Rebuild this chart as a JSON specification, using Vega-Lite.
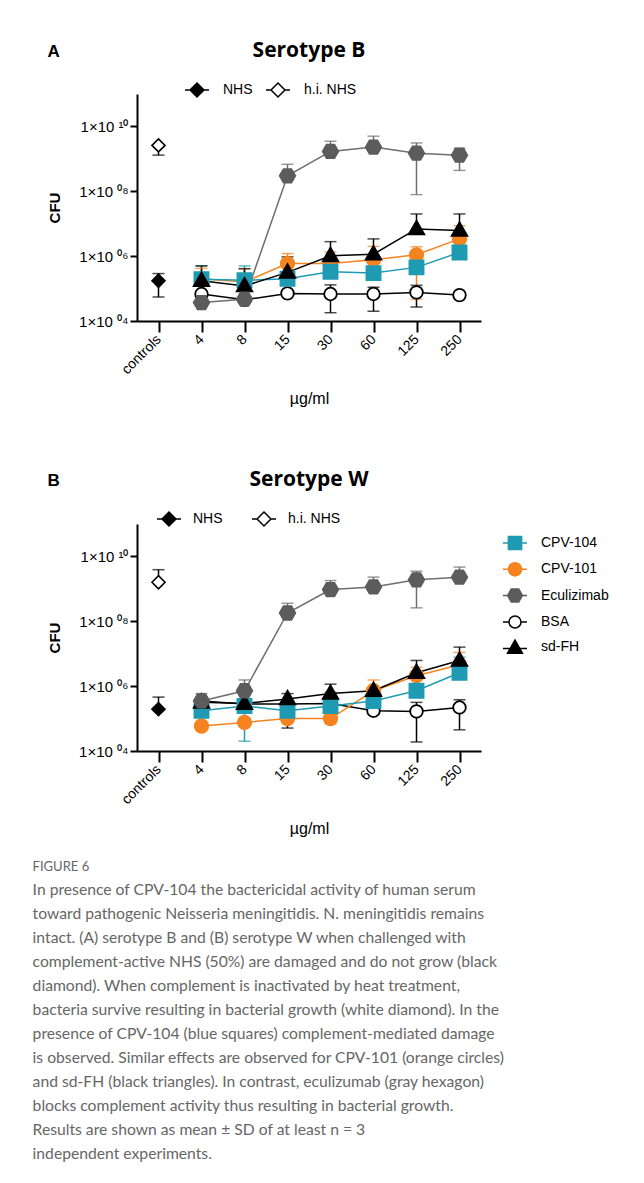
{
"$schema": "https://vega.github.io/schema/vega-lite/v6.json",
"background": "white",
"padding": {"left": 32, "top": 40, "right": 5, "bottom": 5},
"config": {
 "view": {"stroke": null},
 "font": "Liberation Sans",
 "axis": {"domainColor": "#000", "domainWidth": 2, "tickColor": "#000", "tickWidth": 2, "labelColor": "#000", "titleColor": "#000", "grid": false, "labelFont": "Liberation Sans", "titleFont": "Liberation Sans"},
 "axisY": {"labelFontSize": 15, "tickSize": 7, "labelPadding": 2, "titleFontSize": 15, "titleFontWeight": "bold", "titlePadding": 16},
 "axisX": {"labelAngle": -45, "labelAlign": "right", "labelBaseline": "middle", "labelFontSize": 14, "tickSize": 11, "labelPadding": 5, "titleFontSize": 16, "titleFontWeight": "normal", "titlePadding": 14},
 "legend": {"labelFont": "Liberation Sans", "labelFontSize": 14, "labelColor": "#000"},
 "title": {"color": "#000"}
},
"title": {"text": "FIGURE 6", "subtitle": [
  "In presence of CPV-104 the bactericidal activity of human serum",
  "toward pathogenic Neisseria meningitidis. N. meningitidis remains",
  "intact. (A) serotype B and (B) serotype W when challenged with",
  "complement-active NHS (50%) are damaged and do not grow (black",
  "diamond). When complement is inactivated by heat treatment,",
  "bacteria survive resulting in bacterial growth (white diamond). In the",
  "presence of CPV-104 (blue squares) complement-mediated damage",
  "is observed. Similar effects are observed for CPV-101 (orange circles)",
  "and sd-FH (black triangles). In contrast, eculizumab (gray hexagon)",
  "blocks complement activity thus resulting in bacterial growth.",
  "Results are shown as mean \u00b1 SD of at least n = 3",
  "independent experiments."],
 "orient": "bottom", "anchor": "start", "frame": "bounds", "dx": -15, "offset": 24,
 "font": "Lato", "fontSize": 13, "fontWeight": "normal", "color": "#666666",
 "subtitleFont": "Lato", "subtitleFontSize": 15.7, "subtitleColor": "#666666", "subtitleLineHeight": 24, "subtitlePadding": 9},
"datasets": {
 "sA": [
  {"dose":"4","series":"BSA","mean":68000,"lo":68000,"hi":68000},
  {"dose":"8","series":"BSA","mean":45000,"lo":45000,"hi":45000},
  {"dose":"15","series":"BSA","mean":71000,"lo":71000,"hi":71000},
  {"dose":"30","series":"BSA","mean":68000,"lo":18000,"hi":130000},
  {"dose":"60","series":"BSA","mean":68000,"lo":20000,"hi":110000},
  {"dose":"125","series":"BSA","mean":76000,"lo":27000,"hi":126000},
  {"dose":"250","series":"BSA","mean":63000,"lo":63000,"hi":63000},
  {"dose":"4","series":"CPV-101","mean":200000,"lo":200000,"hi":420000},
  {"dose":"8","series":"CPV-101","mean":160000,"lo":160000,"hi":410000},
  {"dose":"15","series":"CPV-101","mean":590000,"lo":590000,"hi":1200000},
  {"dose":"30","series":"CPV-101","mean":590000,"lo":590000,"hi":1350000},
  {"dose":"60","series":"CPV-101","mean":780000,"lo":780000,"hi":2000000},
  {"dose":"125","series":"CPV-101","mean":1100000,"lo":47000,"hi":1950000},
  {"dose":"250","series":"CPV-101","mean":3400000,"lo":3400000,"hi":8700000},
  {"dose":"4","series":"CPV-104","mean":195000,"lo":195000,"hi":500000},
  {"dose":"8","series":"CPV-104","mean":180000,"lo":180000,"hi":500000},
  {"dose":"15","series":"CPV-104","mean":200000,"lo":200000,"hi":200000},
  {"dose":"30","series":"CPV-104","mean":330000,"lo":330000,"hi":330000},
  {"dose":"60","series":"CPV-104","mean":300000,"lo":300000,"hi":300000},
  {"dose":"125","series":"CPV-104","mean":450000,"lo":450000,"hi":1000000},
  {"dose":"250","series":"CPV-104","mean":1300000,"lo":1300000,"hi":1300000},
  {"dose":"4","series":"sd-FH","mean":174000,"lo":174000,"hi":500000},
  {"dose":"8","series":"sd-FH","mean":120000,"lo":120000,"hi":410000},
  {"dose":"15","series":"sd-FH","mean":316000,"lo":316000,"hi":950000},
  {"dose":"30","series":"sd-FH","mean":1020000,"lo":1020000,"hi":2800000},
  {"dose":"60","series":"sd-FH","mean":1150000,"lo":1150000,"hi":3400000},
  {"dose":"125","series":"sd-FH","mean":6900000,"lo":6900000,"hi":20000000},
  {"dose":"250","series":"sd-FH","mean":6200000,"lo":6200000,"hi":20000000},
  {"dose":"4","series":"Eculizimab","mean":37000,"lo":37000,"hi":37000},
  {"dose":"8","series":"Eculizimab","mean":47000,"lo":47000,"hi":47000},
  {"dose":"15","series":"Eculizimab","mean":300000000,"lo":300000000,"hi":680000000},
  {"dose":"30","series":"Eculizimab","mean":1700000000,"lo":1700000000,"hi":3500000000},
  {"dose":"60","series":"Eculizimab","mean":2300000000,"lo":2300000000,"hi":5000000000},
  {"dose":"125","series":"Eculizimab","mean":1500000000,"lo":79000000,"hi":3100000000},
  {"dose":"250","series":"Eculizimab","mean":1300000000,"lo":440000000,"hi":2100000000}
 ],
 "cA": [
  {"dose":"controls","group":"NHS","mean":174000,"lo":55000,"hi":290000},
  {"dose":"controls","group":"h.i. NHS","mean":2600000000,"lo":1300000000,"hi":2600000000}
 ],
 "sB": [
  {"dose":"4","series":"BSA","mean":350000,"lo":350000,"hi":350000},
  {"dose":"8","series":"BSA","mean":280000,"lo":280000,"hi":280000},
  {"dose":"15","series":"BSA","mean":280000,"lo":280000,"hi":280000},
  {"dose":"30","series":"BSA","mean":290000,"lo":290000,"hi":290000},
  {"dose":"60","series":"BSA","mean":174000,"lo":174000,"hi":174000},
  {"dose":"125","series":"BSA","mean":166000,"lo":19000,"hi":316000},
  {"dose":"250","series":"BSA","mean":220000,"lo":45000,"hi":380000},
  {"dose":"4","series":"CPV-101","mean":59000,"lo":59000,"hi":59000},
  {"dose":"8","series":"CPV-101","mean":76000,"lo":76000,"hi":76000},
  {"dose":"15","series":"CPV-101","mean":100000,"lo":100000,"hi":100000},
  {"dose":"30","series":"CPV-101","mean":100000,"lo":69000,"hi":100000},
  {"dose":"60","series":"CPV-101","mean":720000,"lo":720000,"hi":1550000},
  {"dose":"125","series":"CPV-101","mean":2100000,"lo":2100000,"hi":3800000},
  {"dose":"250","series":"CPV-101","mean":4600000,"lo":4600000,"hi":11000000},
  {"dose":"4","series":"CPV-104","mean":174000,"lo":174000,"hi":174000},
  {"dose":"8","series":"CPV-104","mean":245000,"lo":20000,"hi":500000},
  {"dose":"15","series":"CPV-104","mean":174000,"lo":174000,"hi":174000},
  {"dose":"30","series":"CPV-104","mean":245000,"lo":245000,"hi":650000},
  {"dose":"60","series":"CPV-104","mean":350000,"lo":350000,"hi":350000},
  {"dose":"125","series":"CPV-104","mean":720000,"lo":720000,"hi":720000},
  {"dose":"250","series":"CPV-104","mean":2600000,"lo":2600000,"hi":7800000},
  {"dose":"4","series":"sd-FH","mean":316000,"lo":316000,"hi":316000},
  {"dose":"8","series":"sd-FH","mean":290000,"lo":290000,"hi":290000},
  {"dose":"15","series":"sd-FH","mean":400000,"lo":51000,"hi":590000},
  {"dose":"30","series":"sd-FH","mean":590000,"lo":590000,"hi":1150000},
  {"dose":"60","series":"sd-FH","mean":720000,"lo":720000,"hi":720000},
  {"dose":"125","series":"sd-FH","mean":2600000,"lo":2600000,"hi":6200000},
  {"dose":"250","series":"sd-FH","mean":6200000,"lo":6200000,"hi":16000000},
  {"dose":"4","series":"Eculizimab","mean":350000,"lo":350000,"hi":590000},
  {"dose":"8","series":"Eculizimab","mean":720000,"lo":720000,"hi":1550000},
  {"dose":"15","series":"Eculizimab","mean":180000000,"lo":180000000,"hi":360000000},
  {"dose":"30","series":"Eculizimab","mean":950000000,"lo":950000000,"hi":1800000000},
  {"dose":"60","series":"Eculizimab","mean":1150000000,"lo":1150000000,"hi":2300000000},
  {"dose":"125","series":"Eculizimab","mean":1900000000,"lo":260000000,"hi":3500000000},
  {"dose":"250","series":"Eculizimab","mean":2300000000,"lo":2300000000,"hi":4700000000}
 ],
 "cB": [
  {"dose":"controls","group":"NHS","mean":195000,"lo":195000,"hi":460000},
  {"dose":"controls","group":"h.i. NHS","mean":1600000000,"lo":1600000000,"hi":3900000000}
 ]
},
"spacing": 62,
"vconcat": [
  {"title": {"text": "A", "anchor": "start", "frame": "bounds", "font": "Liberation Sans", "fontSize": 17, "fontWeight": "bold", "offset": -21},
   "vconcat": [
   {"width": 344, "height": 227,
    "title": {"text": "Serotype B", "font": "Open Sans", "fontSize": 21, "fontWeight": "bold", "anchor": "middle", "frame": "group", "offset": 16},
    "encoding": {"x": {"field": "dose", "type": "ordinal", "sort": ["controls","4","8","15","30","60","125","250"], "scale": {"type": "point", "padding": 0.5, "domain": ["controls","4","8","15","30","60","125","250"]}, "axis": {"title": "\u00b5g/ml"}}},
    "layer": [
     {"data": {"name": "sA"}, "mark": {"type": "rule", "strokeWidth": 1.5}, "encoding": {"y": {"field": "lo", "type": "quantitative", "scale": {"type": "log", "domain": [10000, 100000000000], "nice": false}, "axis": {"title": "CFU", "values": [10000, 1000000, 100000000, 10000000000], "labelExpr": "datum.value > 5e9 ? '1\u00d710 \u00b9\u2070' : datum.value > 5e7 ? '1\u00d710 \u2070\u2078' : datum.value > 5e5 ? '1\u00d710 \u2070\u2076' : '1\u00d710 \u2070\u2074'"}}, "y2": {"field": "hi"}, "color": {"field": "series", "type": "nominal", "scale": {"domain": ["CPV-104","CPV-101","Eculizimab","BSA","sd-FH"], "range": ["#1E9BB2","#F5831F","#6E6E6E","#000000","#000000"]}, "legend": null}}},
     {"data": {"name": "sA"}, "transform": [{"filter": "datum.hi > datum.mean"}], "mark": {"type": "tick", "thickness": 1.5, "size": 12}, "encoding": {"y": {"field": "hi", "type": "quantitative", "scale": {"type": "log", "domain": [10000, 100000000000], "nice": false}, "axis": {"title": "CFU", "values": [10000, 1000000, 100000000, 10000000000], "labelExpr": "datum.value > 5e9 ? '1\u00d710 \u00b9\u2070' : datum.value > 5e7 ? '1\u00d710 \u2070\u2078' : datum.value > 5e5 ? '1\u00d710 \u2070\u2076' : '1\u00d710 \u2070\u2074'"}}, "color": {"field": "series", "type": "nominal", "scale": {"domain": ["CPV-104","CPV-101","Eculizimab","BSA","sd-FH"], "range": ["#1E9BB2","#F5831F","#6E6E6E","#000000","#000000"]}, "legend": null}}},
     {"data": {"name": "sA"}, "transform": [{"filter": "datum.lo < datum.mean"}], "mark": {"type": "tick", "thickness": 1.5, "size": 12}, "encoding": {"y": {"field": "lo", "type": "quantitative", "scale": {"type": "log", "domain": [10000, 100000000000], "nice": false}, "axis": {"title": "CFU", "values": [10000, 1000000, 100000000, 10000000000], "labelExpr": "datum.value > 5e9 ? '1\u00d710 \u00b9\u2070' : datum.value > 5e7 ? '1\u00d710 \u2070\u2078' : datum.value > 5e5 ? '1\u00d710 \u2070\u2076' : '1\u00d710 \u2070\u2074'"}}, "color": {"field": "series", "type": "nominal", "scale": {"domain": ["CPV-104","CPV-101","Eculizimab","BSA","sd-FH"], "range": ["#1E9BB2","#F5831F","#6E6E6E","#000000","#000000"]}, "legend": null}}},
     {"data": {"name": "cA"}, "mark": {"type": "rule", "strokeWidth": 1.5, "color": "#000"}, "encoding": {"y": {"field": "lo", "type": "quantitative", "scale": {"type": "log", "domain": [10000, 100000000000], "nice": false}, "axis": {"title": "CFU", "values": [10000, 1000000, 100000000, 10000000000], "labelExpr": "datum.value > 5e9 ? '1\u00d710 \u00b9\u2070' : datum.value > 5e7 ? '1\u00d710 \u2070\u2078' : datum.value > 5e5 ? '1\u00d710 \u2070\u2076' : '1\u00d710 \u2070\u2074'"}}, "y2": {"field": "hi"}}},
     {"data": {"name": "cA"}, "transform": [{"filter": "datum.hi > datum.mean"}], "mark": {"type": "tick", "thickness": 1.5, "size": 12, "color": "#000"}, "encoding": {"y": {"field": "hi", "type": "quantitative", "scale": {"type": "log", "domain": [10000, 100000000000], "nice": false}, "axis": {"title": "CFU", "values": [10000, 1000000, 100000000, 10000000000], "labelExpr": "datum.value > 5e9 ? '1\u00d710 \u00b9\u2070' : datum.value > 5e7 ? '1\u00d710 \u2070\u2078' : datum.value > 5e5 ? '1\u00d710 \u2070\u2076' : '1\u00d710 \u2070\u2074'"}}}},
     {"data": {"name": "cA"}, "transform": [{"filter": "datum.lo < datum.mean"}], "mark": {"type": "tick", "thickness": 1.5, "size": 12, "color": "#000"}, "encoding": {"y": {"field": "lo", "type": "quantitative", "scale": {"type": "log", "domain": [10000, 100000000000], "nice": false}, "axis": {"title": "CFU", "values": [10000, 1000000, 100000000, 10000000000], "labelExpr": "datum.value > 5e9 ? '1\u00d710 \u00b9\u2070' : datum.value > 5e7 ? '1\u00d710 \u2070\u2078' : datum.value > 5e5 ? '1\u00d710 \u2070\u2076' : '1\u00d710 \u2070\u2074'"}}}},
     {"data": {"name": "sA"}, "mark": {"type": "line", "strokeWidth": 1.5}, "encoding": {"y": {"field": "mean", "type": "quantitative", "scale": {"type": "log", "domain": [10000, 100000000000], "nice": false}, "axis": {"title": "CFU", "values": [10000, 1000000, 100000000, 10000000000], "labelExpr": "datum.value > 5e9 ? '1\u00d710 \u00b9\u2070' : datum.value > 5e7 ? '1\u00d710 \u2070\u2078' : datum.value > 5e5 ? '1\u00d710 \u2070\u2076' : '1\u00d710 \u2070\u2074'"}}, "color": {"field": "series", "type": "nominal", "scale": {"domain": ["CPV-104","CPV-101","Eculizimab","BSA","sd-FH"], "range": ["#1E9BB2","#F5831F","#7A7A7A","#000000","#000000"]}, "legend": null}}},
     {"data": {"name": "cA"}, "mark": {"type": "point", "shape": "diamond", "filled": true, "size": 170, "stroke": "#000", "strokeWidth": 1.6, "opacity": 1},
      "encoding": {"y": {"field": "mean", "type": "quantitative", "scale": {"type": "log", "domain": [10000, 100000000000], "nice": false}, "axis": {"title": "CFU", "values": [10000, 1000000, 100000000, 10000000000], "labelExpr": "datum.value > 5e9 ? '1\u00d710 \u00b9\u2070' : datum.value > 5e7 ? '1\u00d710 \u2070\u2078' : datum.value > 5e5 ? '1\u00d710 \u2070\u2076' : '1\u00d710 \u2070\u2074'"}},
       "fill": {"field": "group", "type": "nominal", "scale": {"domain": ["NHS","h.i. NHS"], "range": ["#000000","#ffffff"]}, "legend": {"orient": "none", "legendX": 47, "legendY": -17, "direction": "horizontal", "title": null, "padding": 0, "symbolType": "M-1,0H-0.58M0.58,0H1M0,-0.58L0.58,0L0,0.58L-0.58,0Z", "symbolSize": 576, "symbolStrokeColor": "#000", "symbolStrokeWidth": 1.5, "symbolOpacity": 1, "labelOffset": 13, "columnPadding": 10, "labelFontSize": 14}}}},
     {"data": {"name": "sA"}, "mark": {"type": "point", "filled": true, "size": 900, "strokeWidth": 1.8, "opacity": 1},
      "encoding": {"y": {"field": "mean", "type": "quantitative", "scale": {"type": "log", "domain": [10000, 100000000000], "nice": false}, "axis": {"title": "CFU", "values": [10000, 1000000, 100000000, 10000000000], "labelExpr": "datum.value > 5e9 ? '1\u00d710 \u00b9\u2070' : datum.value > 5e7 ? '1\u00d710 \u2070\u2078' : datum.value > 5e5 ? '1\u00d710 \u2070\u2076' : '1\u00d710 \u2070\u2074'"}},
       "shape": {"field": "series", "type": "nominal", "scale": {"domain": ["CPV-104","CPV-101","Eculizimab","BSA","sd-FH"], "range": ["M-0.47,-0.47H0.47V0.47H-0.47Z", "M0.45,0A0.45,0.45 0 1 1 -0.45,0A0.45,0.45 0 1 1 0.45,0Z", "M-0.52,0L-0.26,-0.45L0.26,-0.45L0.52,0L0.26,0.45L-0.26,0.45Z", "M0.42,0A0.42,0.42 0 1 1 -0.42,0A0.42,0.42 0 1 1 0.42,0Z", "M0,-0.55L0.52,0.36L-0.52,0.36Z"]}, "legend": null},
       "fill": {"field": "series", "type": "nominal", "scale": {"domain": ["CPV-104","CPV-101","Eculizimab","BSA","sd-FH"], "range": ["#1E9BB2","#F5831F","#5C5C5C","#FFFFFF","#000000"]}, "legend": null},
       "stroke": {"field": "series", "type": "nominal", "scale": {"domain": ["CPV-104","CPV-101","Eculizimab","BSA","sd-FH"], "range": ["#1E9BB2","#F5831F","#5C5C5C","#000000","#000000"]}, "legend": null}}}
    ],
    "resolve": {"scale": {"fill": "independent", "shape": "independent", "stroke": "independent"}}
   }]
  },
  {"title": {"text": "B", "anchor": "start", "frame": "bounds", "font": "Liberation Sans", "fontSize": 17, "fontWeight": "bold", "offset": -21},
   "vconcat": [
   {"width": 344, "height": 227,
    "title": {"text": "Serotype W", "font": "Open Sans", "fontSize": 21, "fontWeight": "bold", "anchor": "middle", "frame": "group", "offset": 16},
    "encoding": {"x": {"field": "dose", "type": "ordinal", "sort": ["controls","4","8","15","30","60","125","250"], "scale": {"type": "point", "padding": 0.5, "domain": ["controls","4","8","15","30","60","125","250"]}, "axis": {"title": "\u00b5g/ml"}}},
    "layer": [
     {"data": {"name": "sB"}, "mark": {"type": "rule", "strokeWidth": 1.5}, "encoding": {"y": {"field": "lo", "type": "quantitative", "scale": {"type": "log", "domain": [10000, 100000000000], "nice": false}, "axis": {"title": "CFU", "values": [10000, 1000000, 100000000, 10000000000], "labelExpr": "datum.value > 5e9 ? '1\u00d710 \u00b9\u2070' : datum.value > 5e7 ? '1\u00d710 \u2070\u2078' : datum.value > 5e5 ? '1\u00d710 \u2070\u2076' : '1\u00d710 \u2070\u2074'"}}, "y2": {"field": "hi"}, "color": {"field": "series", "type": "nominal", "scale": {"domain": ["CPV-104","CPV-101","Eculizimab","BSA","sd-FH"], "range": ["#1E9BB2","#F5831F","#6E6E6E","#000000","#000000"]}, "legend": null}}},
     {"data": {"name": "sB"}, "transform": [{"filter": "datum.hi > datum.mean"}], "mark": {"type": "tick", "thickness": 1.5, "size": 12}, "encoding": {"y": {"field": "hi", "type": "quantitative", "scale": {"type": "log", "domain": [10000, 100000000000], "nice": false}, "axis": {"title": "CFU", "values": [10000, 1000000, 100000000, 10000000000], "labelExpr": "datum.value > 5e9 ? '1\u00d710 \u00b9\u2070' : datum.value > 5e7 ? '1\u00d710 \u2070\u2078' : datum.value > 5e5 ? '1\u00d710 \u2070\u2076' : '1\u00d710 \u2070\u2074'"}}, "color": {"field": "series", "type": "nominal", "scale": {"domain": ["CPV-104","CPV-101","Eculizimab","BSA","sd-FH"], "range": ["#1E9BB2","#F5831F","#6E6E6E","#000000","#000000"]}, "legend": null}}},
     {"data": {"name": "sB"}, "transform": [{"filter": "datum.lo < datum.mean"}], "mark": {"type": "tick", "thickness": 1.5, "size": 12}, "encoding": {"y": {"field": "lo", "type": "quantitative", "scale": {"type": "log", "domain": [10000, 100000000000], "nice": false}, "axis": {"title": "CFU", "values": [10000, 1000000, 100000000, 10000000000], "labelExpr": "datum.value > 5e9 ? '1\u00d710 \u00b9\u2070' : datum.value > 5e7 ? '1\u00d710 \u2070\u2078' : datum.value > 5e5 ? '1\u00d710 \u2070\u2076' : '1\u00d710 \u2070\u2074'"}}, "color": {"field": "series", "type": "nominal", "scale": {"domain": ["CPV-104","CPV-101","Eculizimab","BSA","sd-FH"], "range": ["#1E9BB2","#F5831F","#6E6E6E","#000000","#000000"]}, "legend": null}}},
     {"data": {"name": "cB"}, "mark": {"type": "rule", "strokeWidth": 1.5, "color": "#000"}, "encoding": {"y": {"field": "lo", "type": "quantitative", "scale": {"type": "log", "domain": [10000, 100000000000], "nice": false}, "axis": {"title": "CFU", "values": [10000, 1000000, 100000000, 10000000000], "labelExpr": "datum.value > 5e9 ? '1\u00d710 \u00b9\u2070' : datum.value > 5e7 ? '1\u00d710 \u2070\u2078' : datum.value > 5e5 ? '1\u00d710 \u2070\u2076' : '1\u00d710 \u2070\u2074'"}}, "y2": {"field": "hi"}}},
     {"data": {"name": "cB"}, "transform": [{"filter": "datum.hi > datum.mean"}], "mark": {"type": "tick", "thickness": 1.5, "size": 12, "color": "#000"}, "encoding": {"y": {"field": "hi", "type": "quantitative", "scale": {"type": "log", "domain": [10000, 100000000000], "nice": false}, "axis": {"title": "CFU", "values": [10000, 1000000, 100000000, 10000000000], "labelExpr": "datum.value > 5e9 ? '1\u00d710 \u00b9\u2070' : datum.value > 5e7 ? '1\u00d710 \u2070\u2078' : datum.value > 5e5 ? '1\u00d710 \u2070\u2076' : '1\u00d710 \u2070\u2074'"}}}},
     {"data": {"name": "cB"}, "transform": [{"filter": "datum.lo < datum.mean"}], "mark": {"type": "tick", "thickness": 1.5, "size": 12, "color": "#000"}, "encoding": {"y": {"field": "lo", "type": "quantitative", "scale": {"type": "log", "domain": [10000, 100000000000], "nice": false}, "axis": {"title": "CFU", "values": [10000, 1000000, 100000000, 10000000000], "labelExpr": "datum.value > 5e9 ? '1\u00d710 \u00b9\u2070' : datum.value > 5e7 ? '1\u00d710 \u2070\u2078' : datum.value > 5e5 ? '1\u00d710 \u2070\u2076' : '1\u00d710 \u2070\u2074'"}}}},
     {"data": {"name": "sB"}, "mark": {"type": "line", "strokeWidth": 1.5}, "encoding": {"y": {"field": "mean", "type": "quantitative", "scale": {"type": "log", "domain": [10000, 100000000000], "nice": false}, "axis": {"title": "CFU", "values": [10000, 1000000, 100000000, 10000000000], "labelExpr": "datum.value > 5e9 ? '1\u00d710 \u00b9\u2070' : datum.value > 5e7 ? '1\u00d710 \u2070\u2078' : datum.value > 5e5 ? '1\u00d710 \u2070\u2076' : '1\u00d710 \u2070\u2074'"}}, "color": {"field": "series", "type": "nominal", "scale": {"domain": ["CPV-104","CPV-101","Eculizimab","BSA","sd-FH"], "range": ["#1E9BB2","#F5831F","#7A7A7A","#000000","#000000"]}, "legend": null}}},
     {"data": {"name": "cB"}, "mark": {"type": "point", "shape": "diamond", "filled": true, "size": 170, "stroke": "#000", "strokeWidth": 1.6, "opacity": 1},
      "encoding": {"y": {"field": "mean", "type": "quantitative", "scale": {"type": "log", "domain": [10000, 100000000000], "nice": false}, "axis": {"title": "CFU", "values": [10000, 1000000, 100000000, 10000000000], "labelExpr": "datum.value > 5e9 ? '1\u00d710 \u00b9\u2070' : datum.value > 5e7 ? '1\u00d710 \u2070\u2078' : datum.value > 5e5 ? '1\u00d710 \u2070\u2076' : '1\u00d710 \u2070\u2074'"}},
       "fill": {"field": "group", "type": "nominal", "scale": {"domain": ["NHS","h.i. NHS"], "range": ["#000000","#ffffff"]}, "legend": {"orient": "none", "legendX": 19, "legendY": -18, "direction": "horizontal", "title": null, "padding": 0, "symbolType": "M-1,0H-0.58M0.58,0H1M0,-0.58L0.58,0L0,0.58L-0.58,0Z", "symbolSize": 576, "symbolStrokeColor": "#000", "symbolStrokeWidth": 1.5, "symbolOpacity": 1, "labelOffset": 11, "columnPadding": 26, "labelFontSize": 14}}}},
     {"data": {"name": "sB"}, "mark": {"type": "point", "filled": true, "size": 900, "strokeWidth": 1.8, "opacity": 1},
      "encoding": {"y": {"field": "mean", "type": "quantitative", "scale": {"type": "log", "domain": [10000, 100000000000], "nice": false}, "axis": {"title": "CFU", "values": [10000, 1000000, 100000000, 10000000000], "labelExpr": "datum.value > 5e9 ? '1\u00d710 \u00b9\u2070' : datum.value > 5e7 ? '1\u00d710 \u2070\u2078' : datum.value > 5e5 ? '1\u00d710 \u2070\u2076' : '1\u00d710 \u2070\u2074'"}},
       "shape": {"field": "series", "type": "nominal", "scale": {"domain": ["CPV-104","CPV-101","Eculizimab","BSA","sd-FH"], "range": ["M-0.47,-0.47H0.47V0.47H-0.47Z", "M0.45,0A0.45,0.45 0 1 1 -0.45,0A0.45,0.45 0 1 1 0.45,0Z", "M-0.52,0L-0.26,-0.45L0.26,-0.45L0.52,0L0.26,0.45L-0.26,0.45Z", "M0.42,0A0.42,0.42 0 1 1 -0.42,0A0.42,0.42 0 1 1 0.42,0Z", "M0,-0.55L0.52,0.36L-0.52,0.36Z"]}, "legend": null},
       "fill": {"field": "series", "type": "nominal", "scale": {"domain": ["CPV-104","CPV-101","Eculizimab","BSA","sd-FH"], "range": ["#1E9BB2","#F5831F","#5C5C5C","#FFFFFF","#000000"]}, "legend": null},
       "stroke": {"field": "series", "type": "nominal", "scale": {"domain": ["CPV-104","CPV-101","Eculizimab","BSA","sd-FH"], "range": ["#1E9BB2","#F5831F","#5C5C5C","#000000","#000000"]}, "legend": null}}},
     {"data": {"name": "sB"}, "mark": {"type": "point", "filled": true, "size": 576, "strokeWidth": 1.5, "opacity": 0},
      "encoding": {"y": {"field": "mean", "type": "quantitative", "scale": {"type": "log", "domain": [10000, 100000000000], "nice": false}, "axis": {"title": "CFU", "values": [10000, 1000000, 100000000, 10000000000], "labelExpr": "datum.value > 5e9 ? '1\u00d710 \u00b9\u2070' : datum.value > 5e7 ? '1\u00d710 \u2070\u2078' : datum.value > 5e5 ? '1\u00d710 \u2070\u2076' : '1\u00d710 \u2070\u2074'"}},
       "shape": {"field": "series", "type": "nominal", "scale": {"domain": ["CPV-104","CPV-101","Eculizimab","BSA","sd-FH"], "range": ["M-1,0H-0.55M0.55,0H1M-0.55,-0.55H0.55V0.55H-0.55Z", "M-1,0H-0.55M0.55,0H1M0.55,0A0.55,0.55 0 1 1 -0.55,0A0.55,0.55 0 1 1 0.55,0Z", "M-1,0H-0.62M0.62,0H1M-0.62,0L-0.31,-0.54L0.31,-0.54L0.62,0L0.31,0.54L-0.31,0.54Z", "M-1,0H-0.5M0.5,0H1M0.5,0A0.5,0.5 0 1 1 -0.5,0A0.5,0.5 0 1 1 0.5,0Z", "M-1,0.1H1M0,-0.6L0.62,0.5L-0.62,0.5Z"]}, "legend": {"orient": "none", "legendX": 365, "legendY": 6, "title": null, "padding": 0, "symbolSize": 576, "symbolStrokeWidth": 1.5, "symbolOpacity": 1, "labelOffset": 13, "rowPadding": 3.3, "labelFontSize": 14}},
       "fill": {"field": "series", "type": "nominal", "scale": {"domain": ["CPV-104","CPV-101","Eculizimab","BSA","sd-FH"], "range": ["#1E9BB2","#F5831F","#5C5C5C","#FFFFFF","#000000"]}, "legend": {"orient": "none", "legendX": 365, "legendY": 6, "title": null, "padding": 0, "symbolSize": 576, "symbolStrokeWidth": 1.5, "symbolOpacity": 1, "labelOffset": 13, "rowPadding": 3.3, "labelFontSize": 14}},
       "stroke": {"field": "series", "type": "nominal", "scale": {"domain": ["CPV-104","CPV-101","Eculizimab","BSA","sd-FH"], "range": ["#1E9BB2","#F5831F","#5C5C5C","#000000","#000000"]}, "legend": {"orient": "none", "legendX": 365, "legendY": 6, "title": null, "padding": 0, "symbolSize": 576, "symbolStrokeWidth": 1.5, "symbolOpacity": 1, "labelOffset": 13, "rowPadding": 3.3, "labelFontSize": 14}}}}
    ],
    "resolve": {"scale": {"fill": "independent", "shape": "independent", "stroke": "independent"}}
   }]
  }
]
}
